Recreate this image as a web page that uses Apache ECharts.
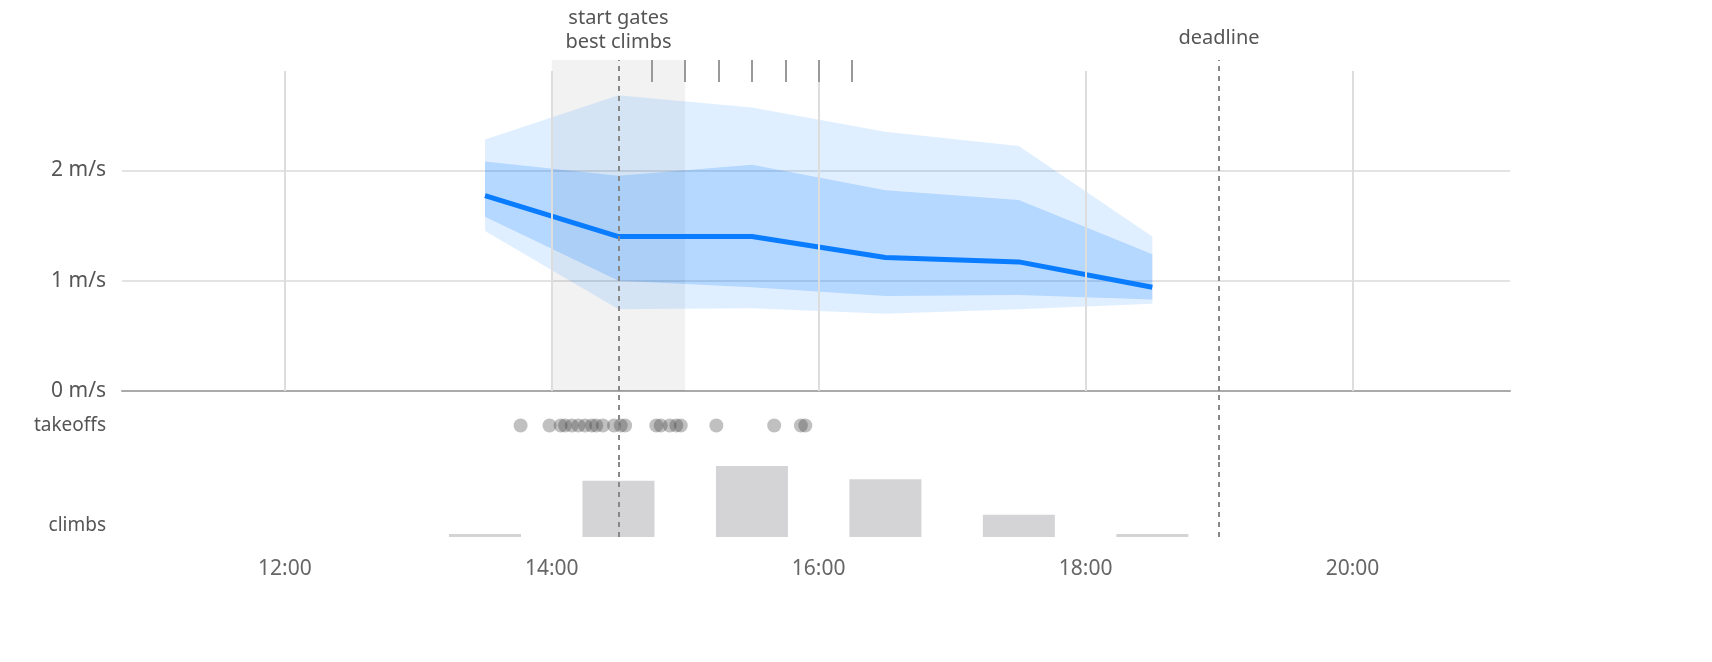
<!DOCTYPE html>
<html><head><meta charset="utf-8">
<script src="https://cdn.jsdelivr.net/npm/echarts@6/dist/echarts.min.js"></script>
<style>html,body{margin:0;padding:0;background:#fff}#c{width:1712px;height:662px}</style>
</head><body><div id="c"></div>
<script>
const hours = ["13:30","14:30","15:30","16:30","17:30","18:30"];
const median = [1.77,1.40,1.40,1.21,1.17,0.94];
const innerLow = [1.58,1.00,0.94,0.86,0.87,0.83];
const innerHigh = [2.08,1.95,2.05,1.82,1.73,1.24];
const outerLow = [1.45,0.74,0.75,0.70,0.74,0.79];
const outerHigh = [2.28,2.68,2.57,2.35,2.22,1.40];
const climbs = [1,19,24,19.5,7.5,1];
const takeoffs = ["13:46","13:59","14:04","14:06","14:09","14:12","14:15","14:18","14:20","14:23","14:28","14:31","14:33","14:47","14:49","14:53","14:56","14:58","15:14","15:40","15:52","15:54"];
const gates = ["14:30","14:45","15:00","15:15","15:30","15:45","16:00","16:15"];
const deadline = "19:00";
const bestClimbs = ["14:00","15:00"];
const xTicks = [12,14,16,18,20];

const h = s => { const [a,b]=s.split(':').map(Number); return a+b/60; };
const X = hours.map(h);
const pts = arr => X.map((x,i)=>[x,arr[i]]);
const XMIN=10.78, XMAX=21.18, YMAX=3.0, FONT='"Noto Sans", sans-serif';
const dash = {color:'#888',type:[5,5],width:2};
const xa = (gi,show) => ({type:'value',gridIndex:gi,min:XMIN,max:XMAX,interval:2,
  axisLine:{show:gi===0,onZero:true,lineStyle:{color:'#aaa',width:2}},axisTick:{show:false},splitLine:{show:false},
  axisLabel:{show:show,customValues:xTicks,formatter:v=>String(v).padStart(2,'0')+':00',color:'#666',fontSize:21,fontFamily:FONT,margin:22}});
const vlines = xTicks.map(t=>[{coord:[t,0]},{coord:[t,2.9]}]);
const tickLines = gates.slice(1).map(g=>[{coord:[h(g),2.8]},{coord:[h(g),YMAX]}]);
const dashedMark = () => ({symbol:'none',silent:true,lineStyle:dash,label:{show:false},data:[{xAxis:h(gates[0])},{xAxis:h(deadline)}]});
const band = (lo,hi,color) => ({type:'custom',xAxisIndex:0,yAxisIndex:0,z:2,silent:true,data:[0],
  renderItem:(params,api)=>{
    const top = X.map((x,i)=>api.coord([x,hi[i]]));
    const bot = X.map((x,i)=>api.coord([x,lo[i]])).reverse();
    return {type:'polygon',shape:{points:top.concat(bot)},style:{fill:color}};
  }});

const option = {
  animation:false,
  grid:[{left:122,right:202,top:60,bottom:271},{left:122,right:202,top:391,bottom:202},{left:122,right:202,top:460,bottom:125}],
  xAxis:[xa(0,false),xa(1,false),xa(2,true)],
  yAxis:[
    {type:'value',gridIndex:0,min:0,max:YMAX,interval:1,axisLabel:{formatter:v=>v<=2?v+' m/s':'',color:'#555',fontSize:21,fontFamily:FONT,margin:16},
     axisLine:{show:false},axisTick:{show:false},splitLine:{lineStyle:{color:['#e3e3e3','#e3e3e3','#e3e3e3','rgba(0,0,0,0)'],width:2}}},
    {type:'category',gridIndex:1,data:['takeoffs'],axisLabel:{color:'#555',fontSize:19,fontFamily:FONT,margin:16},axisLine:{show:false},axisTick:{show:false}},
    {type:'value',gridIndex:2,min:0,max:26,interval:4,axisLabel:{formatter:v=>v===4?'climbs':'',color:'#555',fontSize:19,fontFamily:FONT,margin:16},axisLine:{show:false},axisTick:{show:false},splitLine:{show:false}}
  ],
  series:[
    {type:'line',xAxisIndex:0,yAxisIndex:0,data:[],z:1,
     markLine:{symbol:'none',silent:true,lineStyle:{color:'#ddd',width:2,type:'solid'},label:{show:false},data:vlines},
     markArea:{silent:true,itemStyle:{color:'rgba(0,0,0,0.05)'},label:{show:true,position:'top',distance:8,color:'#555',fontSize:20,fontFamily:FONT},
       data:[[{name:'best climbs',coord:[h(bestClimbs[0]),0]},{coord:[h(bestClimbs[1]),YMAX]}]]}},
    {type:'line',xAxisIndex:0,yAxisIndex:0,data:[],z:1,
     markLine:{symbol:'none',silent:true,lineStyle:{color:'#999',width:2,type:'solid'},label:{show:false},data:tickLines}},
    band(outerLow,outerHigh,'rgba(0,122,255,0.12)'),
    band(innerLow,innerHigh,'rgba(0,122,255,0.2)'),
    {type:'line',data:pts(median),symbol:'none',lineStyle:{color:'#0a7cff',width:5},z:4,
     markLine:{symbol:'none',silent:true,lineStyle:dash,
       label:{show:true,position:'end',distance:[0,12],color:'#555',fontSize:20,fontFamily:FONT,formatter:p=>p.name},
       data:[{name:'start gates',xAxis:h(gates[0]),label:{distance:[0,32]}},{name:'deadline',xAxis:h(deadline)}]}},
    {type:'scatter',xAxisIndex:1,yAxisIndex:1,data:takeoffs.map(t=>[h(t),'takeoffs']),symbolSize:14,itemStyle:{color:'rgba(60,60,60,0.4)'},markLine:dashedMark()},
    {type:'bar',xAxisIndex:2,yAxisIndex:2,data:pts(climbs),barWidth:72,itemStyle:{color:'#d4d4d6'},markLine:dashedMark()}
  ]
};
echarts.init(document.getElementById('c')).setOption(option);
</script></body></html>
